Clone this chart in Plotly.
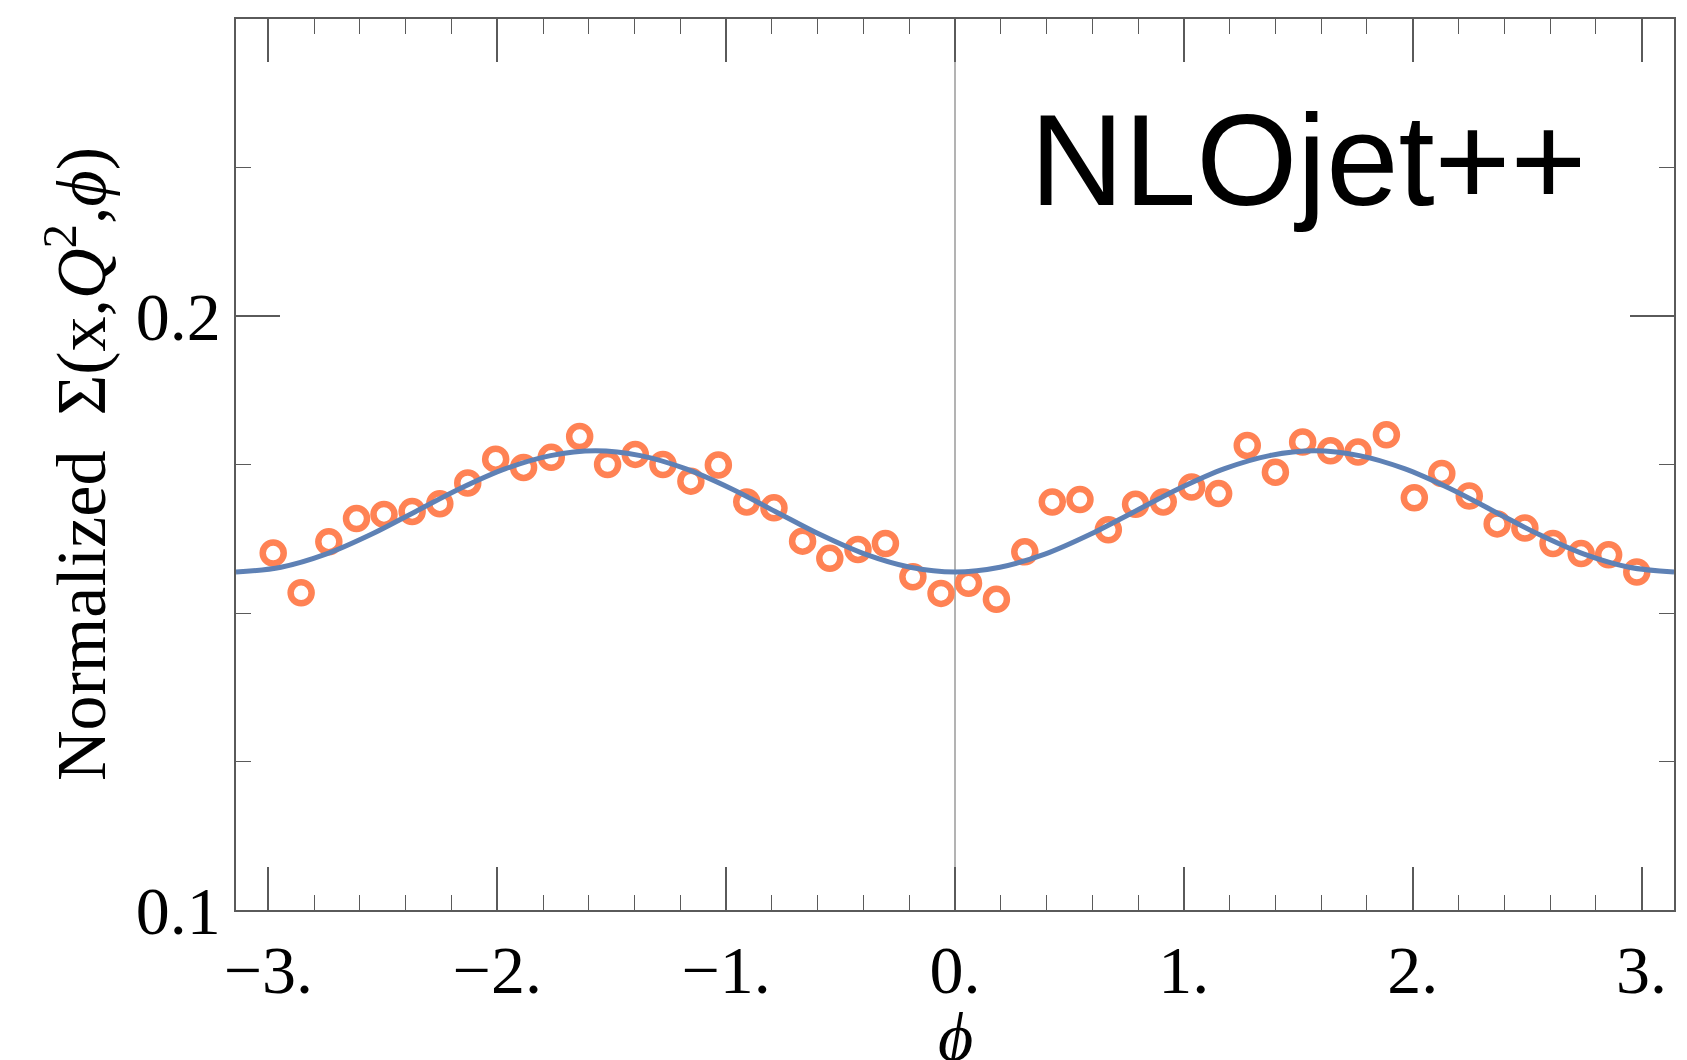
import plotly.graph_objects as go

# ---- data ----
phi_points = [-2.979, -2.857, -2.736, -2.615, -2.495, -2.372, -2.251, -2.129, -2.007, -1.885,
              -1.764, -1.640, -1.518, -1.397, -1.276, -1.154, -1.034, -0.910, -0.791, -0.666,
              -0.547, -0.424, -0.304, -0.184, -0.061, 0.059, 0.181, 0.305, 0.425, 0.546,
              0.670, 0.789, 0.910, 1.034, 1.152, 1.277, 1.400, 1.519, 1.641, 1.761,
              1.885, 2.007, 2.127, 2.247, 2.369, 2.490, 2.613, 2.736, 2.856, 2.979]
sigma_points = [0.1601, 0.1534, 0.1620, 0.1659, 0.1666, 0.1671, 0.1684, 0.1719, 0.1759, 0.1745,
                0.1762, 0.1797, 0.1750, 0.1767, 0.1750, 0.1722, 0.1749, 0.1687, 0.1677, 0.1621,
                0.1592, 0.1607, 0.1617, 0.1561, 0.1533, 0.1550, 0.1523, 0.1603, 0.1687, 0.1691,
                0.1640, 0.1683, 0.1687, 0.1712, 0.1701, 0.1782, 0.1737, 0.1788, 0.1773, 0.1771,
                0.1800, 0.1694, 0.1735, 0.1697, 0.1650, 0.1643, 0.1617, 0.1600, 0.1598, 0.1569]

curve_phi = [-3.1416, -2.9452, -2.7489, -2.5525, -2.3562, -2.1598, -1.9635, -1.7671, -1.5708,
             -1.3744, -1.1781, -0.9817, -0.7854, -0.5890, -0.3927, -0.1963, 0.0,
             0.1963, 0.3927, 0.5890, 0.7854, 0.9817, 1.1781, 1.3744, 1.5708,
             1.7671, 1.9635, 2.1598, 2.3562, 2.5525, 2.7489, 2.9452, 3.1416]
curve_sigma = [0.1569, 0.1577, 0.1599, 0.1632, 0.1671, 0.1710, 0.1743, 0.1765, 0.1773,
               0.1765, 0.1743, 0.1710, 0.1671, 0.1632, 0.1599, 0.1577, 0.1569,
               0.1577, 0.1599, 0.1632, 0.1671, 0.1710, 0.1743, 0.1765, 0.1773,
               0.1765, 0.1743, 0.1710, 0.1671, 0.1632, 0.1599, 0.1577, 0.1569]

x_tickvals = [-3, -2, -1, 0, 1, 2, 3]
x_ticktext = ["\u22123.", "\u22122.", "\u22121.", "0.", "1.", "2.", "3."]
y_tickvals = [0.1, 0.2]
y_ticktext = ["0.1", "0.2"]

SERIF = "Liberation Serif, Times New Roman, serif"
FRAME = "#5a5a5a"

fig = go.Figure()
fig.add_trace(go.Scatter(
    x=phi_points, y=sigma_points, mode="markers",
    marker=dict(symbol="circle-open", size=21, color="#FF8254",
                line=dict(width=6.5, color="#FF8254")),
    showlegend=False, hoverinfo="skip"))
fig.add_trace(go.Scatter(
    x=curve_phi, y=curve_sigma, mode="lines",
    line=dict(color="#5E81B5", width=5, shape="spline", smoothing=1.0),
    showlegend=False, hoverinfo="skip"))

fig.add_shape(type="line", xref="x", yref="paper", x0=0, x1=0, y0=0, y1=1,
              line=dict(color="#9a9a9a", width=1.5), layer="below")

fig.update_layout(
    width=1687, height=1060,
    margin=dict(l=235.5, r=11, t=18.7, b=150.3),
    paper_bgcolor="white", plot_bgcolor="white",
    font=dict(family=SERIF, size=68, color="black"),
    xaxis=dict(range=[-3.14159, 3.14159], showgrid=False, zeroline=False,
               showline=True, linecolor=FRAME, linewidth=1.5, mirror="allticks",
               ticks="inside", ticklen=43, tickwidth=1.5, tickcolor=FRAME,
               tickvals=x_tickvals, ticktext=x_ticktext,
               tickfont=dict(family=SERIF, size=68, color="black"),
               minor=dict(dtick=0.2, tick0=0, ticks="inside", ticklen=15,
                          tickwidth=1.2, tickcolor=FRAME, showgrid=False)),
    yaxis=dict(range=[0.1, 0.25], showgrid=False, zeroline=False,
               showline=True, linecolor=FRAME, linewidth=1.5, mirror="allticks",
               ticks="inside", ticklen=44, tickwidth=1.5, tickcolor=FRAME,
               tickvals=y_tickvals, ticktext=y_ticktext,
               tickfont=dict(family=SERIF, size=68, color="black"),
               minor=dict(dtick=0.025, tick0=0.1, ticks="inside", ticklen=15,
                          tickwidth=1.2, tickcolor=FRAME, showgrid=False)),
    annotations=[
        dict(text="NLOjet++", xref="paper", yref="paper", x=0, y=1,
             xshift=1307.5 - 235.5, yshift=-(159.5 - 18.7),
             xanchor="center", yanchor="middle", showarrow=False,
             font=dict(family="Liberation Sans, Arial, sans-serif", size=130, color="black")),
        dict(text="<i>\u03d5</i>", xref="x", yref="paper", x=0, y=0,
             yshift=-(1037 - 909.7), xanchor="center", yanchor="middle", showarrow=False,
             font=dict(family=SERIF, size=68, color="black")),
        dict(text="Normalized  \u03a3(x,<i>Q</i><sup>2</sup>,<i>\u03d5</i>)",
             xref="paper", yref="paper", x=0, y=0.5, xshift=75 - 235.5,
             xanchor="center", yanchor="middle", textangle=-90, showarrow=False,
             font=dict(family=SERIF, size=70, color="black")),
    ],
)

fig.write_html("out.html", config={"displayModeBar": False})
